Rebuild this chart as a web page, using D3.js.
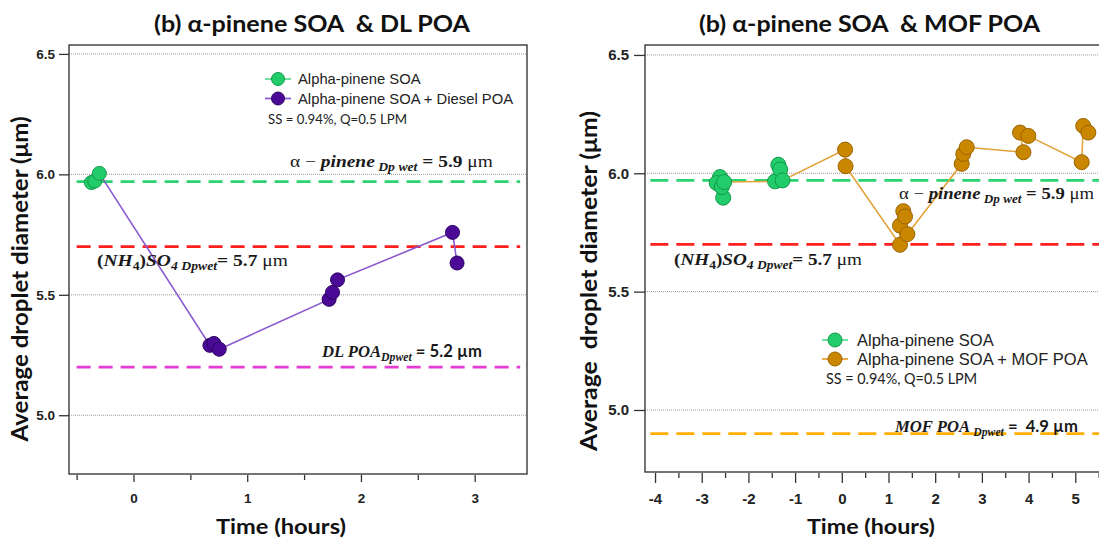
<!DOCTYPE html>
<html><head><meta charset="utf-8">
<script src="https://cdn.jsdelivr.net/npm/d3@7"></script>
<style>
html,body{margin:0;padding:0;background:#fff;overflow:hidden}
text{white-space:pre}
</style></head><body>
<svg id="chart" width="1099" height="539"></svg>
<script>
// ---------------- data ----------------
const leftSoaTime  = [-0.37, -0.34, -0.30];
const leftSoaDiam  = [5.966, 5.972, 6.004];
const dieselTime   = [0.672, 0.707, 0.754, 1.72, 1.75, 1.794, 2.805, 2.845];
const dieselDiam   = [5.290, 5.298, 5.274, 5.481, 5.510, 5.562, 5.759, 5.632];
const rightSoaTime = [-2.61, -2.54, -2.68, -2.57, -2.52, -1.43, -1.36, -1.32, -1.27];
const rightSoaDiam = [5.984, 5.897, 5.959, 5.942, 5.963, 5.966, 6.036, 6.016, 5.970];
const mofTime = [0.07, 0.08, 1.246, 1.246, 1.317, 1.354, 1.403, 2.568, 2.602, 2.675, 3.89, 3.817, 3.995, 5.138, 5.17, 5.28];
const mofDiam = [6.100, 6.030, 5.698, 5.779, 5.840, 5.817, 5.743, 6.040, 6.082, 6.110, 6.089, 6.172, 6.158, 6.047, 6.200, 6.172];
const yTicks = [5.0, 5.5, 6.0, 6.5];
const leftXTicks = [0, 1, 2, 3];
const leftXMinor = [-0.5, 0.5, 1.5, 2.5];
const rightXTicks = [-4, -3, -2, -1, 0, 1, 2, 3, 4, 5];
const rightXMinor = [-3.5, -2.5, -1.5, -0.5, 0.5, 1.5, 2.5, 3.5, 4.5, 5.5];
const leftRefValues  = [5.97, 5.70, 5.20];   // alpha-pinene, (NH4)SO4, DL POA
const rightRefValues = [5.97, 5.70, 4.90];   // alpha-pinene, (NH4)SO4, MOF POA
const leftTitle  = "(b) α-pinene SOA  & DL POA";
const rightTitle = "(b) α-pinene SOA  & MOF POA";
const xTitle = "Time (hours)";
const leftYTitle  = "Average droplet diameter (μm)";
const rightYTitle = "Average  droplet diameter (μm)";
const leftLegend  = ["Alpha-pinene SOA", "Alpha-pinene SOA + Diesel POA"];
const rightLegend = ["Alpha-pinene SOA", "Alpha-pinene SOA + MOF POA"];
const ssNote = "SS = 0.94%, Q=0.5 LPM";

// ---------------- styles ----------------
const SANS = "'Liberation Sans', Arial, sans-serif";
const CAL = "Lato, 'Open Sans', sans-serif";
const SERIF = "'Liberation Serif', 'DejaVu Serif', serif";
const C = {
  green: "#22cc6a", greenStroke: "#11994a", greenLine: "#66dd99",
  purple: "#4b0a96", purpleStroke: "#2a0063", purpleLine: "#8a5ad0",
  orange: "#c98700", orangeStroke: "#9a6300", orangeLine: "#e3a33a",
  refGreen: "#2ad36f", refRed: "#ff1f1f", refMag: "#e63bd2", refAmber: "#ffae00"
};

const svg = d3.select("#chart");
const zip = (a, b) => a.map((v, i) => [v, b[i]]);

function fitWidth(sel, x0, w) {
  const cur = sel.node().getBBox().width;
  if (cur > 0) sel.attr("transform", `translate(${x0},0) scale(${w / cur},1) translate(${-x0},0)`);
}

function richText(g, x0, yb, parts, size, sub, target) {
  const t = g.append("text").attr("x", x0).attr("y", yb).attr("fill", "#1a1a1a");
  let shifted = 0;
  parts.forEach(([txt, st]) => {
    const ts = t.append("tspan").text(txt);
    let fam = SERIF, wt = "bold", sty = "normal", fs = size, dy = 0;
    if (st.includes("I")) sty = "italic";
    if (st.includes("N")) wt = "normal";
    if (st.includes("S")) fam = CAL;
    if (st.includes("_")) { fs = sub; if (!shifted) { dy = 4; shifted = 1; } }
    else if (shifted) { dy = -4; shifted = 0; }
    ts.attr("font-family", fam).attr("font-weight", wt).attr("font-style", sty)
      .attr("font-size", fs).attr("dy", dy);
  });
  fitWidth(t, x0, target);
  return t;
}

function drawPanel(cfg) {
  const g = svg.append("g");
  const x = d3.scaleLinear().domain(cfg.xDomain).range([cfg.L, cfg.R]);
  const y = d3.scaleLinear().domain(cfg.yDomain).range([cfg.B, cfg.T]);

  // grid
  g.selectAll("line.grid").data(yTicks).join("line").attr("class", "grid")
    .attr("x1", cfg.L).attr("x2", cfg.R).attr("y1", d => y(d)).attr("y2", d => y(d))
    .attr("stroke", "#9a9a9a").attr("stroke-width", 1).attr("stroke-dasharray", "1,1");

  // reference dashed lines
  g.selectAll("line.ref").data(cfg.refs.values).join("line").attr("class", "ref")
    .attr("x1", x(cfg.refs.x0)).attr("x2", x(cfg.refs.x1))
    .attr("y1", d => y(d)).attr("y2", d => y(d))
    .attr("stroke", (d, i) => cfg.refs.colors[i]).attr("stroke-width", 2.8)
    .attr("stroke-dasharray", cfg.refs.dash);

  // frame
  g.append("rect").attr("x", cfg.L).attr("y", cfg.T).attr("width", cfg.R - cfg.L)
    .attr("height", cfg.B - cfg.T).attr("fill", "none").attr("stroke", "#3a3a3a").attr("stroke-width", 1.4);

  // y axis
  const ya = g.append("g").attr("transform", `translate(${cfg.L},0)`)
    .call(d3.axisLeft(y).tickValues(yTicks).tickSize(cfg.yTickLen).tickPadding(cfg.yPad).tickFormat(d3.format(".1f")));
  ya.select(".domain").remove();
  ya.selectAll("line").attr("stroke", "#333").attr("stroke-width", 1.3);
  ya.selectAll("text").attr("font-family", SANS).attr("font-weight", "bold")
    .attr("font-size", cfg.tickFont).attr("fill", "#222");

  // x axis (major + minor)
  const xa = g.append("g").attr("transform", `translate(0,${cfg.B + 1})`)
    .call(d3.axisBottom(x).tickValues(cfg.xMajor).tickSize(cfg.xMajLen).tickFormat(d => String(d)));
  xa.select(".domain").remove();
  xa.selectAll("line").attr("stroke", "#333").attr("stroke-width", 1.3);
  xa.selectAll("text").attr("y", cfg.xLabelY - cfg.B - 1).attr("dy", "0.35em")
    .attr("font-family", SANS).attr("font-weight", "bold").attr("font-size", cfg.tickFont).attr("fill", "#222");
  const xm = g.append("g").attr("transform", `translate(0,${cfg.B + 1})`)
    .call(d3.axisBottom(x).tickValues(cfg.xMinor).tickSize(cfg.xMinLen).tickFormat(""));
  xm.select(".domain").remove();
  xm.selectAll("line").attr("stroke", "#333").attr("stroke-width", 1.3);

  // series line
  const line = d3.line().x(d => x(d[0])).y(d => y(d[1]));
  g.append("path").datum(cfg.lineData).attr("d", line).attr("fill", "none")
    .attr("stroke", cfg.lineColor).attr("stroke-width", 1.6);

  // markers
  g.selectAll("circle.poa").data(cfg.poa).join("circle").attr("class", "poa")
    .attr("cx", d => x(d[0])).attr("cy", d => y(d[1])).attr("r", cfg.r)
    .attr("fill", cfg.poaFill).attr("stroke", cfg.poaStroke).attr("stroke-width", 1);
  g.selectAll("circle.soa").data(cfg.soa).join("circle").attr("class", "soa")
    .attr("cx", d => x(d[0])).attr("cy", d => y(d[1])).attr("r", cfg.r)
    .attr("fill", C.green).attr("stroke", C.greenStroke).attr("stroke-width", 1);

  // annotations
  cfg.notes.forEach(n => richText(g, n.x, n.y, n.parts, n.size, n.sub, n.w));

  // legend
  const lg = cfg.legend;
  const rows = [
    { label: lg.labels[0], line: C.greenLine, fill: C.green, stroke: C.greenStroke },
    { label: lg.labels[1], line: cfg.legendLine, fill: cfg.poaFill, stroke: cfg.poaStroke }
  ];
  rows.forEach((r, i) => {
    const yy = lg.y[i];
    g.append("line").attr("x1", lg.mx - 13).attr("x2", lg.mx + 13).attr("y1", yy).attr("y2", yy)
      .attr("stroke", r.line).attr("stroke-width", 1.8);
    g.append("circle").attr("cx", lg.mx).attr("cy", yy).attr("r", lg.r)
      .attr("fill", r.fill).attr("stroke", r.stroke).attr("stroke-width", 1);
    g.append("text").attr("x", lg.tx).attr("y", yy).attr("dy", "0.36em").text(r.label)
      .attr("font-family", SANS).attr("font-size", lg.size).attr("fill", "#222");
  });
  g.append("text").attr("x", lg.ssx).attr("y", lg.ssy).attr("dy", "0.36em").text(ssNote)
    .attr("font-family", CAL).attr("font-size", lg.ssSize).attr("fill", "#222")
    .attr("textLength", lg.ssw).attr("lengthAdjust", "spacingAndGlyphs");

  // titles
  g.append("text").attr("x", cfg.titleX).attr("y", 24).attr("dy", "0.35em").text(cfg.title)
    .attr("font-family", CAL).attr("font-weight", "bold").attr("font-size", 23).attr("fill", "#111")
    .attr("textLength", cfg.titleW).attr("lengthAdjust", "spacingAndGlyphs");
  g.append("text").attr("x", cfg.xtX).attr("y", 527).attr("dy", "0.35em").attr("text-anchor", "middle")
    .text(xTitle).attr("font-family", CAL).attr("font-weight", "bold").attr("font-size", 21).attr("fill", "#111")
    .attr("textLength", cfg.xtW).attr("lengthAdjust", "spacingAndGlyphs");
  g.append("text").attr("transform", `translate(${cfg.ytX},${cfg.ytY}) rotate(-90)`).attr("text-anchor", "middle")
    .text(cfg.yTitle).attr("font-family", CAL).attr("font-weight", "bold").attr("font-size", 22).attr("fill", "#111")
    .attr("textLength", cfg.ytW).attr("lengthAdjust", "spacingAndGlyphs");
}

// -------- left panel --------
drawPanel({
  xDomain: [-0.567, 3.46], L: 69, R: 527,
  yDomain: [4.756, 6.537], B: 474, T: 45,
  refs: { values: leftRefValues, colors: [C.refGreen, C.refRed, C.refMag], x0: -0.5, x1: 3.4, dash: "14,8" },
  yTickLen: 10, yPad: 4, tickFont: 13.5,
  xMajor: leftXTicks, xMinor: leftXMinor, xMajLen: 7, xMinLen: 5, xLabelY: 498,
  lineData: [[leftSoaTime[leftSoaTime.length - 1], leftSoaDiam[leftSoaDiam.length - 1]]].concat(zip(dieselTime, dieselDiam)),
  lineColor: C.purpleLine, legendLine: C.purpleLine,
  poa: zip(dieselTime, dieselDiam), poaFill: C.purple, poaStroke: C.purpleStroke,
  soa: zip(leftSoaTime, leftSoaDiam), r: 7,
  notes: [
    { x: 290, y: 167, size: 17, sub: 12, w: 203,
      parts: [["α − ", "N"], ["pinene", "I"], [" Dp wet", "I_"], [" = 5.9 ", ""], ["μm", "N"]] },
    { x: 97, y: 266, size: 17, sub: 12, w: 191,
      parts: [["(", ""], ["NH", "I"], ["4", "_"], [")", ""], ["SO", "I"], ["4 Dpwet", "I_"], ["= 5.7 ", ""], ["μm", "N"]] },
    { x: 322, y: 357, size: 17, sub: 12, w: 161,
      parts: [["DL POA", "I"], ["Dpwet", "I_"], [" = 5.2 µm", "S"]] }
  ],
  legend: { labels: leftLegend, mx: 278, r: 6.5, tx: 298, y: [79, 98.5], size: 14.8, ssx: 268, ssy: 119, ssSize: 14, ssw: 139 },
  title: leftTitle, titleX: 154, titleW: 316,
  xtX: 281, xtW: 130,
  yTitle: leftYTitle, ytX: 28, ytY: 279, ytW: 325
});

// -------- right panel --------
drawPanel({
  xDomain: [-4.215, 5.958], L: 645, R: 1120,
  yDomain: [4.738, 6.542], B: 472, T: 45,
  refs: { values: rightRefValues, colors: [C.refGreen, C.refRed, C.refAmber], x0: -4.1, x1: 6.0, dash: "18,8" },
  yTickLen: 11, yPad: 5, tickFont: 15,
  xMajor: rightXTicks, xMinor: rightXMinor, xMajLen: 10, xMinLen: 5, xLabelY: 499,
  lineData: zip(rightSoaTime, rightSoaDiam).concat(zip(mofTime, mofDiam)),
  lineColor: C.orangeLine, legendLine: C.orangeLine,
  poa: zip(mofTime, mofDiam), poaFill: C.orange, poaStroke: C.orangeStroke,
  soa: zip(rightSoaTime, rightSoaDiam), r: 7.5,
  notes: [
    { x: 899, y: 199, size: 17, sub: 12, w: 195,
      parts: [["α − ", "N"], ["pinene", "I"], [" Dp wet", "I_"], [" = 5.9 ", ""], ["μm", "N"]] },
    { x: 674, y: 265, size: 17, sub: 12, w: 188,
      parts: [["(", ""], ["NH", "I"], ["4", "_"], [")", ""], ["SO", "I"], ["4 Dpwet", "I_"], ["= 5.7 ", ""], ["μm", "N"]] },
    { x: 895, y: 432, size: 17, sub: 12, w: 184,
      parts: [["MOF POA ", "I"], ["Dpwet", "I_"], [" =  4.9 µm", "S"]] }
  ],
  legend: { labels: rightLegend, mx: 835, r: 7, tx: 857, y: [340, 359], size: 16.5, ssx: 826, ssy: 379, ssSize: 15, ssw: 151 },
  title: rightTitle, titleX: 699, titleW: 341,
  xtX: 871, xtW: 128,
  yTitle: rightYTitle, ytX: 597, ytY: 281, ytW: 340
});
</script>
</body></html>
